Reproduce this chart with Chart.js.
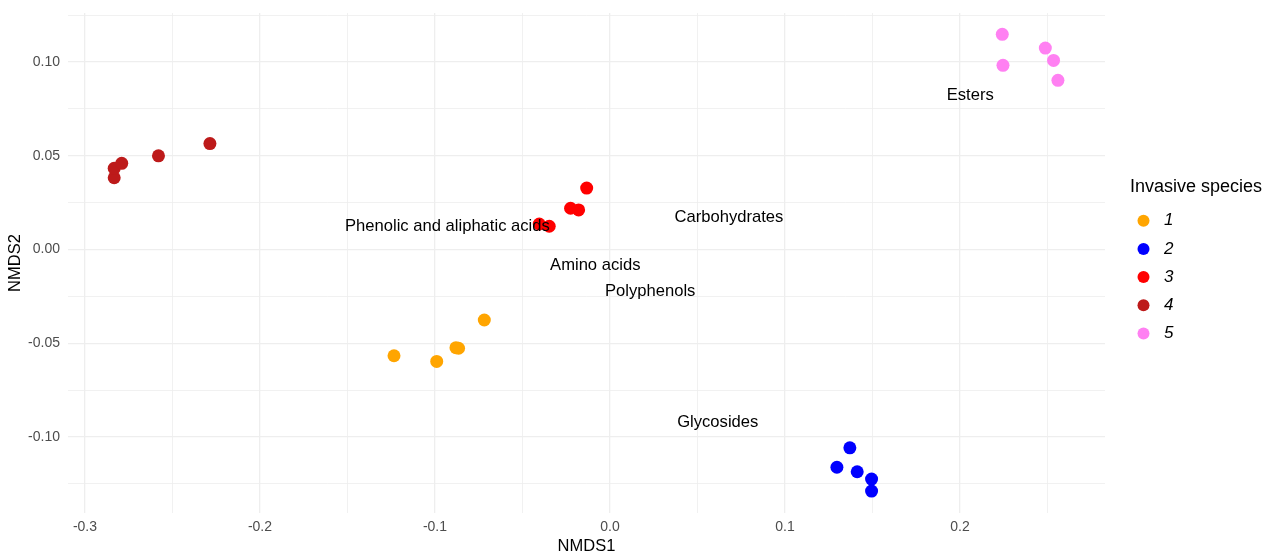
<!DOCTYPE html>
<html>
<head>
<meta charset="utf-8">
<script src="https://cdn.jsdelivr.net/npm/chart.js@4/dist/chart.umd.min.js"></script>
<style>
  html, body { margin: 0; padding: 0; background: #fff; }
  #wrap { width: 1275px; height: 556px; }
</style>
</head>
<body>
<div id="wrap"><canvas id="nmdsChart" width="1275" height="556"></canvas></div>
<script>
const FONT = '"Liberation Sans", Arial, sans-serif';

// species groups
const species = ['1', '2', '3', '4', '5'];
const speciesColors = ['#FFA500', '#0000FF', '#FF0000', '#BD1A1A', '#FF80F2'];

// NMDS scores per species
const sp1X = [-0.0718, -0.0880, -0.0865, -0.1234, -0.0990];
const sp1Y = [-0.0376, -0.0524, -0.0527, -0.0567, -0.0597];
const sp2X = [0.1371, 0.1297, 0.1413, 0.1495, 0.1495];
const sp2Y = [-0.1058, -0.1162, -0.1186, -0.1225, -0.1289];
const sp3X = [-0.0133, -0.0225, -0.0179, -0.0404, -0.0347];
const sp3Y = [0.0328, 0.0220, 0.0211, 0.0136, 0.0124];
const sp4X = [-0.2833, -0.2833, -0.2790, -0.2580, -0.2286];
const sp4Y = [0.0383, 0.0433, 0.0460, 0.0500, 0.0565];
const sp5X = [0.2242, 0.2246, 0.2488, 0.2535, 0.2560];
const sp5Y = [0.1148, 0.0983, 0.1075, 0.1009, 0.0903];

// compound class labels (centre of text)
const classNames = ['Phenolic and aliphatic acids', 'Carbohydrates', 'Amino acids', 'Polyphenols', 'Glycosides', 'Esters'];
const classX = [-0.0929, 0.0680, -0.0084, 0.0230, 0.0616, 0.2059];
const classY = [0.0122, 0.0173, -0.0083, -0.0221, -0.0922, 0.0824];

// axis ticks (major labelled, minor unlabelled)
const xTicks = [-0.3, -0.25, -0.2, -0.15, -0.1, -0.05, 0, 0.05, 0.1, 0.15, 0.2, 0.25];
const xTickLabels = ['-0.3', '', '-0.2', '', '-0.1', '', '0.0', '', '0.1', '', '0.2', ''];
const yTicks = [-0.125, -0.1, -0.075, -0.05, -0.025, 0, 0.025, 0.05, 0.075, 0.1, 0.125];
const yTickLabels = ['', '-0.10', '', '-0.05', '', '0.00', '', '0.05', '', '0.10', ''];

const xs = [sp1X, sp2X, sp3X, sp4X, sp5X];
const ys = [sp1Y, sp2Y, sp3Y, sp4Y, sp5Y];

const datasets = species.map((s, i) => ({
    label: s,
    data: xs[i].map((x, j) => ({ x: x, y: ys[i][j] })),
    backgroundColor: speciesColors[i],
    borderColor: speciesColors[i],
    pointRadius: 6.5,
    pointBorderWidth: 0
}));

const classLabels = {
    id: 'classLabels',
    afterDatasetsDraw(chart) {
        const ctx = chart.ctx;
        const sx = chart.scales.x, sy = chart.scales.y;
        ctx.save();
        ctx.font = '16.6px ' + FONT;
        ctx.fillStyle = '#000';
        ctx.textAlign = 'center';
        ctx.textBaseline = 'middle';
        classNames.forEach((t, i) => {
            ctx.fillText(t, sx.getPixelForValue(classX[i]), sy.getPixelForValue(classY[i]));
        });
        ctx.restore();
    }
};

const sideLegend = {
    id: 'sideLegend',
    afterDraw(chart) {
        const ctx = chart.ctx;
        ctx.save();
        ctx.fillStyle = '#000';
        ctx.textBaseline = 'middle';
        ctx.textAlign = 'left';
        ctx.font = '18px ' + FONT;
        ctx.fillText('Invasive species', 1130, 187);
        species.forEach((s, i) => {
            const y = 220.7 + i * 28.2;
            ctx.beginPath();
            ctx.arc(1143.5, y, 6, 0, Math.PI * 2);
            ctx.fillStyle = speciesColors[i];
            ctx.fill();
            ctx.fillStyle = '#000';
            ctx.font = 'italic 17px ' + FONT;
            ctx.fillText(s, 1164, y);
        });
        ctx.restore();
    }
};

const gridStyle = {
    color: '#EEEEEE',
    lineWidth: c => (c.tick && c.tick.label === '' ? 0.8 : 1.3),
    drawTicks: false
};

new Chart(document.getElementById('nmdsChart').getContext('2d'), {
    type: 'scatter',
    data: { datasets: datasets },
    options: {
        responsive: false,
        animation: false,
        layout: { padding: { left: 0, right: 170, top: 13, bottom: 0 } },
        plugins: {
            legend: { display: false },
            tooltip: { enabled: false }
        },
        scales: {
            x: {
                type: 'linear',
                min: -0.3097,
                max: 0.2829,
                border: { display: false },
                grid: gridStyle,
                afterBuildTicks: axis => { axis.ticks = xTicks.map(v => ({ value: v })); },
                afterFit: axis => { axis.height = 43; },
                ticks: {
                    autoSkip: false,
                    maxRotation: 0,
                    padding: 6,
                    color: '#4D4D4D',
                    font: { family: FONT, size: 14 },
                    callback: (v, i) => xTickLabels[i]
                },
                title: {
                    display: true,
                    text: 'NMDS1',
                    color: '#000',
                    font: { family: FONT, size: 16.5 },
                    padding: { top: 3, bottom: 0 }
                }
            },
            y: {
                type: 'linear',
                min: -0.1406,
                max: 0.1262,
                border: { display: false },
                grid: gridStyle,
                afterBuildTicks: axis => { axis.ticks = yTicks.map(v => ({ value: v })); },
                afterFit: axis => { axis.width = 68; axis.paddingTop = 0; axis.paddingBottom = 0; },
                ticks: {
                    autoSkip: false,
                    padding: 8,
                    color: '#4D4D4D',
                    font: { family: FONT, size: 14, lineHeight: 1 },
                    callback: (v, i) => yTickLabels[i]
                },
                title: {
                    display: true,
                    text: 'NMDS2',
                    color: '#000',
                    font: { family: FONT, size: 16.5 },
                    padding: { top: 6, bottom: 0 }
                }
            }
        }
    },
    plugins: [classLabels, sideLegend]
});
</script>
</body>
</html>
